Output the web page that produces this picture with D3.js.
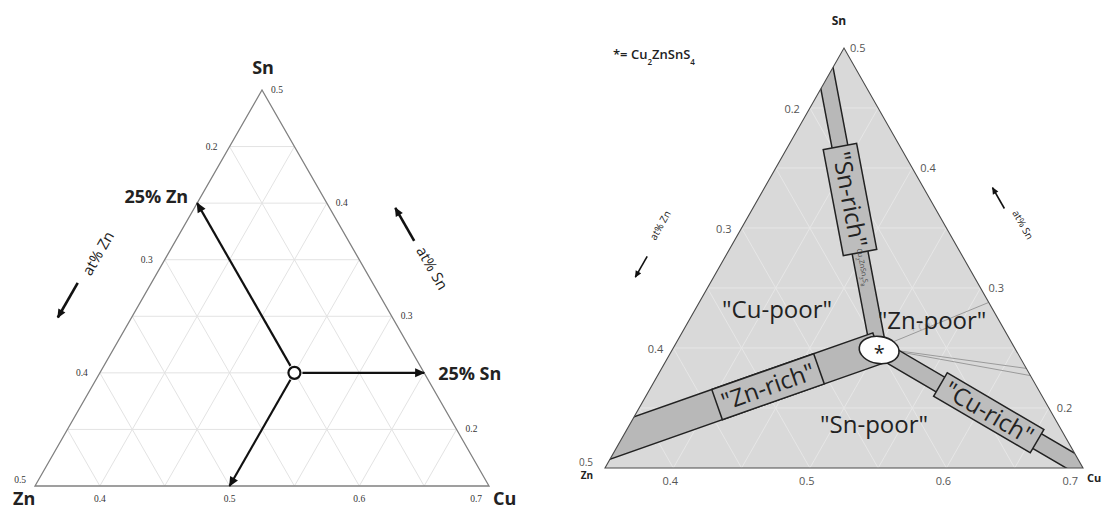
<!DOCTYPE html>
<html>
<head>
<meta charset="utf-8">
<script src="https://cdn.jsdelivr.net/npm/d3@7"></script>
<style>
  body { margin: 0; background: #fff; }
  svg { display: block; font-family: "Open Sans", "Noto Sans", sans-serif; }
</style>
</head>
<body>
<svg id="chart" width="1102" height="511"></svg>
<script>
// ---- composition window (metal atomic fractions) shared by both diagrams ----
const cuDomain = [0.35, 0.70];
const znDomain = [0.15, 0.50];
const snDomain = [0.15, 0.50];
const gridStep = 0.05;

// tick labels along each side
const cuTicks = [0.4, 0.5, 0.6, 0.7];
const znTicks = [0.2, 0.3, 0.4, 0.5];
const snTicks = [0.2, 0.3, 0.4, 0.5];

// stoichiometric Cu2ZnSnS4
const czts = {cu: 0.50, zn: 0.25, sn: 0.25};

// left diagram: reading the CZTS composition off the three axes
const guideTargets = [
  {cu: 0.35, zn: 0.25, sn: 0.40},
  {cu: 0.60, zn: 0.15, sn: 0.25},
  {cu: 0.50, zn: 0.35, sn: 0.15}
];
const guideLabels = ["25% Zn", "25% Sn", null];

// right diagram: off-stoichiometric bands leaving the CZTS point
const bandNames = ['"Sn-rich"', '"Zn-rich"', '"Cu-rich"'];
const bandEnds = [
  {cu: 0.35, zn: 0.175, sn: 0.475},
  {cu: 0.35, zn: 0.475, sn: 0.175},
  {cu: 0.70, zn: 0.15,  sn: 0.15}
];
const bandLabelAt = [0.55, 0.43, 0.54];

// secondary tie lines toward the Cu-Sn side
const tieEnds = [
  {cu: 0.562, zn: 0.15, sn: 0.288},
  {cu: 0.617, zn: 0.15, sn: 0.233},
  {cu: 0.623, zn: 0.15, sn: 0.227}
];

// named regions between the bands
const regionNames = ['"Cu-poor"', '"Zn-poor"', '"Sn-poor"'];
const regionAt = [
  {cu: 0.410, zn: 0.308, sn: 0.282},
  {cu: 0.528, zn: 0.199, sn: 0.273},
  {cu: 0.529, zn: 0.285, sn: 0.186}
];

// ---- layout ----
const svg = d3.select("#chart");
const comps = ["cu", "zn", "sn"];
const mins = {cu: cuDomain[0], zn: znDomain[0], sn: snDomain[0]};
const maxs = {cu: cuDomain[1], zn: znDomain[1], sn: snDomain[1]};
const fmt = d3.format(".1f");

const leftV  = {zn: [35, 486],  cu: [489, 486],  sn: [262, 90]};
const rightV = {zn: [605, 468], cu: [1083, 468], sn: [844, 48]};

function projection(V) {
  const w = {
    cu: d3.scaleLinear().domain(cuDomain).range([0, 1]),
    zn: d3.scaleLinear().domain(znDomain).range([0, 1]),
    sn: d3.scaleLinear().domain(snDomain).range([0, 1])
  };
  return p => {
    let x = 0, y = 0, s = 0;
    comps.forEach(k => { const a = w[k](p[k]); x += a * V[k][0]; y += a * V[k][1]; s += a; });
    return [x / s, y / s];
  };
}

function gridLines() {
  const out = [];
  comps.forEach(k => {
    const [j, l] = comps.filter(c => c !== k);
    const n = Math.round((maxs[k] - mins[k]) / gridStep);
    for (let s = 1; s < n; s++) {
      const v = mins[k] + s * gridStep;
      out.push([
        {[k]: v, [j]: mins[j], [l]: 1 - v - mins[j]},
        {[k]: v, [l]: mins[l], [j]: 1 - v - mins[l]}
      ]);
    }
  });
  return out;
}

function edgeFrame(A, B, V) {
  const c = [(V.zn[0] + V.cu[0] + V.sn[0]) / 3, (V.zn[1] + V.cu[1] + V.sn[1]) / 3];
  const dx = B[0] - A[0], dy = B[1] - A[1], L = Math.hypot(dx, dy);
  const u = [dx / L, dy / L];
  let n = [u[1], -u[0]];
  const m = [(A[0] + B[0]) / 2, (A[1] + B[1]) / 2];
  if ((c[0] - m[0]) * n[0] + (c[1] - m[1]) * n[1] > 0) n = [-n[0], -n[1]];
  return {at: (t, off) => [A[0] + dx * t + n[0] * off, A[1] + dy * t + n[1] * off], u};
}

const defs = svg.append("defs");
function marker(id, w, h) {
  defs.append("marker").attr("id", id)
    .attr("viewBox", "0 -5 10 10").attr("refX", 9).attr("refY", 0)
    .attr("markerUnits", "userSpaceOnUse")
    .attr("markerWidth", w).attr("markerHeight", h).attr("orient", "auto")
    .append("path").attr("d", "M0,-4.5L10,0L0,4.5Z").attr("fill", "#111");
}
marker("headBig", 13, 10);
marker("headMid", 11, 9);
marker("headSmall", 8, 7);

const line = d3.line();

// annotation arrow + rotated caption beside an edge
function axisNote(g, frame, note) {
  const tp = frame.at(note.textT, note.textOff);
  const ang = Math.atan2(frame.u[1], frame.u[0]) * 180 / Math.PI;
  g.append("text")
    .attr("transform", `translate(${tp[0]},${tp[1]}) rotate(${ang})`)
    .attr("text-anchor", "middle").attr("dy", "0.35em")
    .attr("font-size", note.size).attr("fill", "#222")
    .text(note.text);
  const c = frame.at(note.arrowT, note.arrowOff);
  const d = note.arrowDir * note.arrowLen / 2;
  g.append("path")
    .attr("d", line([[c[0] - frame.u[0] * d, c[1] - frame.u[1] * d], [c[0] + frame.u[0] * d, c[1] + frame.u[1] * d]]))
    .attr("stroke", "#111").attr("stroke-width", note.arrowW)
    .attr("marker-end", `url(#${note.head})`);
}

// =================== LEFT DIAGRAM ===================
{
  const P = projection(leftV);
  const g = svg.append("g");
  const tri = [leftV.zn, leftV.cu, leftV.sn];

  g.append("path").attr("d", line(tri) + "Z").attr("fill", "#fff");
  g.selectAll("path.grid").data(gridLines()).join("path").attr("class", "grid")
    .attr("d", d => line(d.map(P)))
    .attr("stroke", "#e3e3e3").attr("stroke-width", 1).attr("fill", "none");
  g.append("path").attr("d", line(tri) + "Z")
    .attr("fill", "none").attr("stroke", "#808080").attr("stroke-width", 1.3);

  // tick labels
  function ticks(vals, toPoint, dx, dy, anchor, lastDx, lastDy, lastAnchor) {
    vals.forEach((v, i) => {
      const p = P(toPoint(v));
      const last = i === vals.length - 1;
      g.append("text")
        .attr("x", p[0] + (last && lastDx !== undefined ? lastDx : dx))
        .attr("y", p[1] + (last && lastDy !== undefined ? lastDy : dy))
        .attr("text-anchor", last && lastAnchor ? lastAnchor : anchor)
        .attr("font-family", "'Liberation Serif', serif")
        .attr("font-size", 9.5).attr("fill", "#333")
        .text(fmt(v));
    });
  }
  ticks(snTicks, v => ({zn: mins.zn, sn: v, cu: 1 - mins.zn - v}), 9, 3, "start");
  ticks(znTicks, v => ({cu: mins.cu, zn: v, sn: 1 - mins.cu - v}), -12, 3, "end", -9, -3);
  ticks(cuTicks, v => ({sn: mins.sn, cu: v, zn: 1 - mins.sn - v}), 0, 16, "middle", -7, 16, "end");

  // guide arrows from the CZTS point
  const c = P(czts), r = 6;
  guideTargets.forEach((t, i) => {
    const p = P(t);
    const dx = p[0] - c[0], dy = p[1] - c[1], L = Math.hypot(dx, dy);
    const s = [c[0] + dx / L * (r + 2), c[1] + dy / L * (r + 2)];
    g.append("path").attr("d", line([s, p]))
      .attr("stroke", "#111").attr("stroke-width", 2.2).attr("fill", "none")
      .attr("marker-end", "url(#headBig)");
    if (guideLabels[i]) {
      const leftSide = dx < 0;
      g.append("text")
        .attr("x", p[0] + (leftSide ? -9 : 14)).attr("y", p[1] + (leftSide ? 0 : 7))
        .attr("text-anchor", leftSide ? "end" : "start")
        .attr("font-size", 18).attr("font-weight", 700).attr("fill", "#222")
        .text(guideLabels[i]);
    }
  });
  g.append("circle").attr("cx", c[0]).attr("cy", c[1]).attr("r", r)
    .attr("fill", "#fff").attr("stroke", "#111").attr("stroke-width", 2.2);

  // corner names
  const corner = (txt, v, dx, dy, anchor) => g.append("text")
    .attr("x", v[0] + dx).attr("y", v[1] + dy).attr("text-anchor", anchor)
    .attr("font-size", 18).attr("font-weight", 700).attr("fill", "#222").text(txt);
  corner("Sn", leftV.sn, 1, -16, "middle");
  corner("Zn", leftV.zn, -22, 19, "start");
  corner("Cu", leftV.cu, 4, 19, "start");

  axisNote(g, edgeFrame(leftV.zn, leftV.sn, leftV),
    {text: "at% Zn", size: 15, textT: 0.511, textOff: 61, arrowT: 0.389, arrowOff: 64,
     arrowLen: 40, arrowDir: -1, arrowW: 2.6, head: "headMid"});
  axisNote(g, edgeFrame(leftV.sn, leftV.cu, leftV),
    {text: "at% Sn", size: 15, textT: 0.524, textOff: 59, arrowT: 0.411, arrowOff: 57,
     arrowLen: 38, arrowDir: -1, arrowW: 2.6, head: "headMid"});
}

// =================== RIGHT DIAGRAM ===================
{
  const P = projection(rightV);
  const g = svg.append("g");
  const tri = [rightV.zn, rightV.cu, rightV.sn];

  defs.append("clipPath").attr("id", "triClip")
    .append("path").attr("d", line(tri) + "Z");

  g.append("path").attr("d", line(tri) + "Z").attr("fill", "#d9d9d9");

  const inner = g.append("g").attr("clip-path", "url(#triClip)");
  inner.selectAll("path.grid").data(gridLines()).join("path").attr("class", "grid")
    .attr("d", d => line(d.map(P)))
    .attr("stroke", "#e6e6e6").attr("stroke-width", 1).attr("fill", "none");

  const c = P(czts);

  // faint tie lines
  inner.selectAll("path.tie").data(tieEnds).join("path").attr("class", "tie")
    .attr("d", d => line([c, P(d)]))
    .attr("stroke", "#9a9a9a").attr("stroke-width", 1).attr("fill", "none");
  inner.append("text")
    .attr("transform", `translate(${c[0] + 33},${c[1] - 15}) rotate(-15)`)
    .attr("font-size", 10).attr("fill", "#b0b0b0").text("+ Cu");

  // bands
  const halfW = [8, 16, 8.5];
  const bands = bandEnds.map((e, i) => {
    const p = P(e);
    const dx = p[0] - c[0], dy = p[1] - c[1], L = Math.hypot(dx, dy);
    const u = [dx / L, dy / L], n = [-u[1], u[0]];
    const ext = [p[0] + u[0] * 40, p[1] + u[1] * 40];
    const h = halfW[i];
    return {i, u, n, L, p,
      poly: [[c[0] + n[0] * h, c[1] + n[1] * h], [ext[0] + n[0] * h, ext[1] + n[1] * h],
             [ext[0] - n[0] * h, ext[1] - n[1] * h], [c[0] - n[0] * h, c[1] - n[1] * h]]};
  });
  inner.selectAll("path.band").data(bands).join("path").attr("class", "band")
    .attr("d", d => line(d.poly) + "Z")
    .attr("fill", "#b8b8b8").attr("stroke", "#222").attr("stroke-width", 1.5);

  // label boxes on the bands
  const boxSize = [[108, 34], [108, 32], [112, 27]];
  bands.forEach(b => {
    const t = bandLabelAt[b.i];
    const x = c[0] + b.u[0] * b.L * t, y = c[1] + b.u[1] * b.L * t;
    let ang = Math.atan2(b.u[1], b.u[0]) * 180 / Math.PI;
    if (ang > 90 || ang < -90) ang += 180;
    const [bw, bh] = boxSize[b.i];
    const bg = g.append("g").attr("transform", `translate(${x},${y}) rotate(${ang})`);
    bg.append("rect").attr("x", -bw / 2).attr("y", -bh / 2).attr("width", bw).attr("height", bh)
      .attr("fill", "#bdbdbd").attr("stroke", "#222").attr("stroke-width", 1.5);
    bg.append("text").attr("text-anchor", "middle").attr("dy", "0.35em")
      .attr("font-size", 24).attr("fill", "#222").text(bandNames[b.i]);
  });

  // small phase note inside the Sn-rich band
  {
    const b = bands[0];
    const x = c[0] + b.u[0] * b.L * 0.30, y = c[1] + b.u[1] * b.L * 0.30;
    const ang = Math.atan2(b.u[1], b.u[0]) * 180 / Math.PI + 180;
    const t = g.append("text").attr("transform", `translate(${x},${y}) rotate(${ang})`)
      .attr("text-anchor", "middle").attr("dy", "0.35em").attr("font-size", 7).attr("fill", "#444");
    t.append("tspan").text("Cu");
    t.append("tspan").attr("baseline-shift", "sub").attr("font-size", 5).text("2");
    t.append("tspan").text("ZnSn");
    t.append("tspan").attr("baseline-shift", "sub").attr("font-size", 5).text("3");
    t.append("tspan").text("S");
    t.append("tspan").attr("baseline-shift", "sub").attr("font-size", 5).text("8");
  }

  // CZTS blob
  g.append("ellipse").attr("cx", c[0] + 1).attr("cy", c[1] + 2).attr("rx", 20).attr("ry", 13.5)
    .attr("transform", `rotate(8,${c[0] + 1},${c[1] + 2})`)
    .attr("fill", "#fff").attr("stroke", "#222").attr("stroke-width", 1.6);
  g.append("text").attr("x", c[0] + 1).attr("y", c[1] + 12).attr("text-anchor", "middle")
    .attr("font-size", 20).attr("fill", "#222").text("*");

  // region names
  g.selectAll("text.region").data(regionAt).join("text").attr("class", "region")
    .attr("x", d => P(d)[0]).attr("y", d => P(d)[1]).attr("dy", "0.35em")
    .attr("text-anchor", "middle").attr("font-size", 24).attr("fill", "#222")
    .text((d, i) => regionNames[i]);

  // outline
  g.append("path").attr("d", line(tri) + "Z")
    .attr("fill", "none").attr("stroke", "#4a4a4a").attr("stroke-width", 1.1);

  // tick labels
  function ticks(vals, toPoint, dx, dy, anchor, lastDx, lastDy, lastAnchor, lastSize) {
    vals.forEach((v, i) => {
      const p = P(toPoint(v));
      const last = i === vals.length - 1;
      g.append("text")
        .attr("x", p[0] + (last && lastDx !== undefined ? lastDx : dx))
        .attr("y", p[1] + (last && lastDy !== undefined ? lastDy : dy))
        .attr("text-anchor", last && lastAnchor ? lastAnchor : anchor)
        .attr("font-size", last && lastSize ? lastSize : 11).attr("fill", "#555").text(fmt(v));
    });
  }
  ticks(snTicks, v => ({zn: mins.zn, sn: v, cu: 1 - mins.zn - v}), 8, 4, "start", 6, 4);
  ticks(znTicks, v => ({cu: mins.cu, zn: v, sn: 1 - mins.cu - v}), -10, 5, "end", -12, -2, "end", 10);
  ticks(cuTicks, v => ({sn: mins.sn, cu: v, zn: 1 - mins.sn - v}), -3, 17, "middle", -5, 17, "end");

  const corner = (txt, v, dx, dy, anchor, size) => g.append("text")
    .attr("x", v[0] + dx).attr("y", v[1] + dy).attr("text-anchor", anchor)
    .attr("font-size", size).attr("font-weight", 700).attr("fill", "#222").text(txt);
  corner("Sn", rightV.sn, -5, -23, "middle", 12);
  corner("Zn", rightV.zn, -12, 11, "end", 10);
  corner("Cu", rightV.cu, 4, 14, "start", 11);

  axisNote(g, edgeFrame(rightV.zn, rightV.sn, rightV),
    {text: "at% Zn", size: 10, textT: 0.493, textOff: 72, arrowT: 0.399, arrowOff: 68,
     arrowLen: 24, arrowDir: -1, arrowW: 1.6, head: "headSmall"});
  axisNote(g, edgeFrame(rightV.sn, rightV.cu, rightV),
    {text: "at% Sn", size: 10, textT: 0.501, textOff: 68, arrowT: 0.428, arrowOff: 60,
     arrowLen: 24, arrowDir: -1, arrowW: 1.6, head: "headSmall"});

  // legend for the star
  const lg = svg.append("text").attr("x", 613).attr("y", 59)
    .attr("font-size", 13).attr("font-weight", 600).attr("fill", "#222");
  lg.append("tspan").text("*= Cu");
  lg.append("tspan").attr("baseline-shift", "sub").attr("font-size", 8).text("2");
  lg.append("tspan").text("ZnSnS");
  lg.append("tspan").attr("baseline-shift", "sub").attr("font-size", 8).text("4");
}
</script>
</body>
</html>
